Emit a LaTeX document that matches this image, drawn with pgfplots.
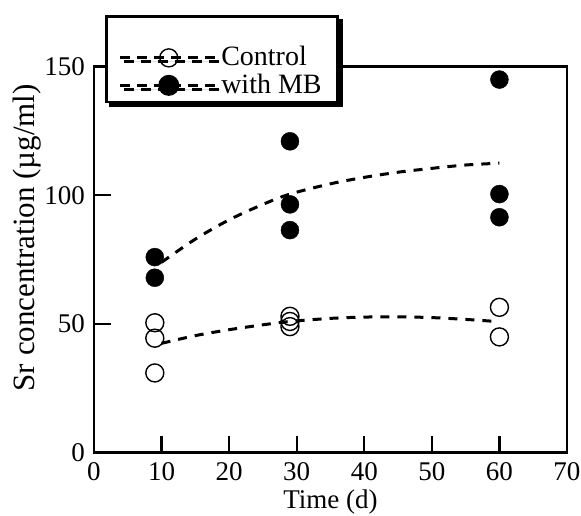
\documentclass[border=0pt]{standalone}
\usepackage{fontspec}
\setmainfont{Liberation Serif}
\usepackage{pgfplots}
\pgfplotsset{compat=1.18}
\pgfplotsset{
  tall legend/.style={legend image code/.code={\path (0pt,39pt); \draw[mark repeat=2,mark phase=2,##1] plot coordinates {(0pt,0pt) (49pt,0pt) (96pt,0pt)};}}
}
\begin{document}
\fontsize{27}{32}\selectfont
\begin{tikzpicture}
\begin{axis}[
  scale only axis, width=473pt, height=386pt,
  xmin=0,xmax=70,ymin=0,ymax=150,
  xtick={0,10,...,70}, ytick={0,50,100,150},
  xtick pos=left, ytick pos=left, tick align=inside,
  major tick length=17pt,
  axis line style={line width=2.6pt},
  every tick/.style={line width=2.2pt, black},
  /pgf/number format/assume math mode=true,
  tick label style={font=\fontsize{27}{32}\selectfont},
  xticklabel style={yshift=-1pt},
  xlabel={Time (d)}, ylabel={Sr concentration (µg/ml)},
  xlabel style={font=\fontsize{27}{32}\selectfont, yshift=10pt},
  ylabel style={font=\fontsize{31}{34}\selectfont, yshift=-15pt, xshift=22pt},
  clip=false,
  legend image code/.code={\draw[mark repeat=2,mark phase=2,#1] plot coordinates {(0pt,0pt) (49pt,0pt) (96pt,0pt)};},
  legend cell align=left,
  legend style={at={(0.023,1.134)}, anchor=north west, draw=black, line width=2.8pt, fill=white,
    preaction={fill=black, draw=black, transform canvas={shift={(4pt,-4pt)}}},
    inner xsep=12pt, inner ysep=1pt, row sep=-4pt,
    font=\fontsize{28}{32}\selectfont,
    nodes={inner sep=4pt}},
]
\addlegendimage{tall legend, black, line width=3pt, dash pattern=on 10pt off 7pt, mark=o, mark size=9pt, mark options={solid, line width=1.4pt, fill=white}}
\addlegendentry{Control}
\addlegendimage{black, line width=3pt, dash pattern=on 10pt off 7pt, mark=*, mark size=9pt, mark options={solid}}
\addlegendentry{with MB}

\addplot[black, line width=3pt, dash pattern=on 9pt off 8pt, smooth, forget plot] coordinates {
(10,74) (15,83) (20,90.5) (25,96.5) (29,100.5) (35,104.5) (40,107) (45,109) (50,110.5) (55,111.8) (60,112.5)};
\addplot[black, line width=3pt, dash pattern=on 9pt off 8pt, smooth, forget plot] coordinates {
(10,42.5) (15,45.5) (20,47.8) (25,49.7) (29,51) (35,52.2) (40,52.7) (45,52.8) (50,52.5) (55,51.8) (59.5,51)};

\addplot[only marks, mark=o, mark size=9pt, black, line width=1.4pt, mark options={fill=white}, forget plot] coordinates {
(9,50.5) (9,44.5) (9,31) (29,53) (29,51) (29,49) (60,56.5) (60,45)};
\addplot[only marks, mark=*, mark size=9pt, black, forget plot] coordinates {
(9,76) (9,68) (29,121) (29,96.5) (29,86.5) (60,145) (60,100.5) (60,91.5)};
\end{axis}
\pgfresetboundingbox
\path (-94pt,-62.3pt) rectangle (487pt,452.7pt);
\end{tikzpicture}
\end{document}
